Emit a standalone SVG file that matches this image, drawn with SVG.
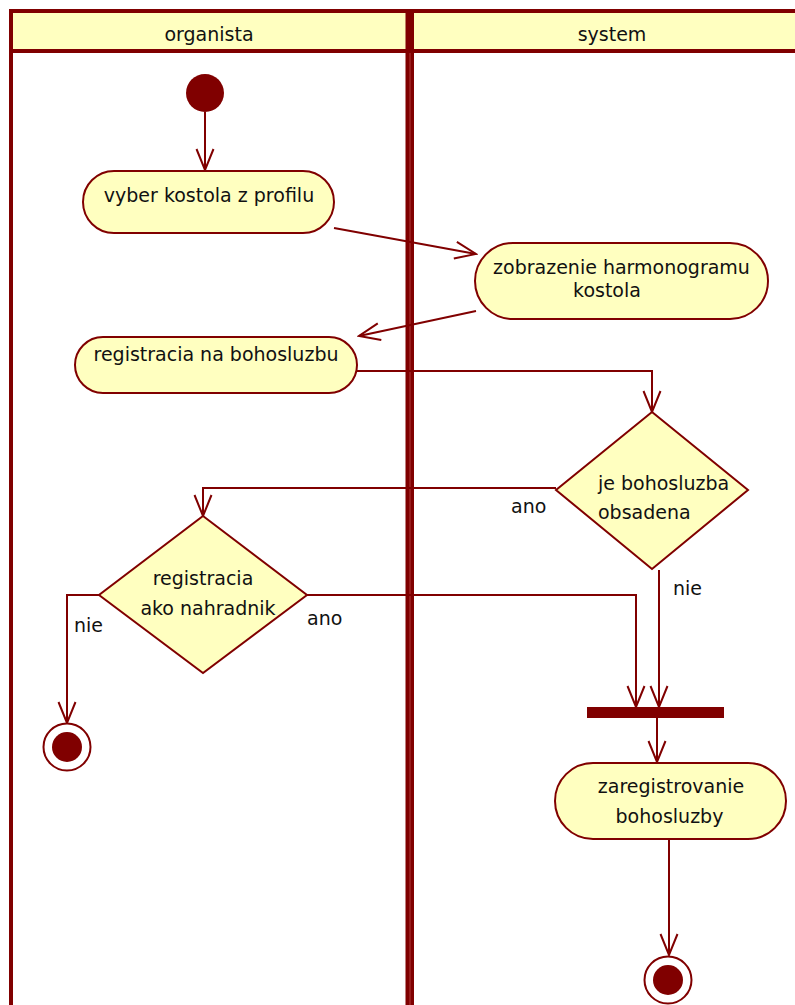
<svg xmlns="http://www.w3.org/2000/svg" width="795" height="1005" viewBox="0 0 795 1005">
<style>
.lbl{font-family:"DejaVu Sans",Verdana,sans-serif;font-size:19px;fill:#111}
.hdr{font-family:"DejaVu Sans",Verdana,sans-serif;font-size:19px;fill:#111;text-anchor:middle}
.c{text-anchor:middle}
.act{fill:#FFFFC0;stroke:#800000;stroke-width:2}
.conn{fill:none;stroke:#800000;stroke-width:2}
.dark{fill:#800000}
</style>
<defs>
<marker id="arr" viewBox="-23 -10 25 20" refX="0" refY="0" markerWidth="25" markerHeight="20" orient="auto" markerUnits="userSpaceOnUse">
<path d="M-21,-8.5 L0,0 L-21,8.5" fill="none" stroke="#800000" stroke-width="2"/>
</marker>
</defs>
<rect width="795" height="1005" fill="#fff"/>
<g id="lanes">
<rect x="11" y="11" width="800" height="40" fill="#FFFFC0"/>
<line x1="9" y1="11" x2="795" y2="11" stroke="#800000" stroke-width="4"/>
<line x1="9" y1="51" x2="795" y2="51" stroke="#800000" stroke-width="4"/>
<line x1="11" y1="9" x2="11" y2="1005" stroke="#800000" stroke-width="4"/>
<rect x="405.5" y="9" width="8.5" height="996" fill="#800000"/>
<line x1="410" y1="53" x2="410" y2="1005" stroke="#b03a3a" stroke-width="1"/>
<text class="hdr" x="209" y="41">organista</text>
<text class="hdr" x="612" y="41">system</text>
</g>
<g id="connectors">
<path class="conn" d="M205,112 L205,170" marker-end="url(#arr)"/>
<path class="conn" d="M334,228 L476,254" marker-end="url(#arr)"/>
<path class="conn" d="M476,311 L359,336" marker-end="url(#arr)"/>
<path class="conn" d="M357,371 L652,371 L652,412" marker-end="url(#arr)"/>
<path class="conn" d="M556,488 L203,488 L203,516" marker-end="url(#arr)"/>
<path class="conn" d="M99,595 L67,595 L67,723" marker-end="url(#arr)"/>
<path class="conn" d="M307,595 L636,595 L636,707" marker-end="url(#arr)"/>
<path class="conn" d="M659,570 L659,707" marker-end="url(#arr)"/>
<path class="conn" d="M657,718 L657,762" marker-end="url(#arr)"/>
<path class="conn" d="M669,840 L669,955" marker-end="url(#arr)"/>
<text class="lbl" x="511" y="513">ano</text>
<text class="lbl" x="74" y="632">nie</text>
<text class="lbl" x="307" y="625">ano</text>
<text class="lbl" x="673" y="595">nie</text>
</g>
<g id="start">
<circle class="dark" cx="205" cy="93" r="19"/>
</g>
<g id="vyber">
<rect class="act" x="83" y="171" width="251" height="62" rx="31"/>
<text class="lbl c" x="209" y="202">vyber kostola z profilu</text>
</g>
<g id="zobrazenie">
<rect class="act" x="475" y="243" width="293" height="76" rx="38"/>
<text class="lbl c" x="621.5" y="274">zobrazenie harmonogramu</text>
<text class="lbl c" x="607" y="297">kostola</text>
</g>
<g id="registracia">
<rect class="act" x="75" y="337" width="282" height="56" rx="28"/>
<text class="lbl c" x="216" y="361">registracia na bohosluzbu</text>
</g>
<g id="obsadena">
<polygon class="act" points="652,412 748,490 652,569 556,490"/>
<text class="lbl" x="598" y="490">je bohosluzba</text>
<text class="lbl" x="598" y="519">obsadena</text>
</g>
<g id="nahradnik">
<polygon class="act" points="203,516 307,595 203,673 99,595"/>
<text class="lbl c" x="203" y="585">registracia</text>
<text class="lbl c" x="208" y="615">ako nahradnik</text>
</g>
<g id="final1">
<circle cx="67" cy="747" r="23.5" fill="#fff" stroke="#800000" stroke-width="2"/>
<circle class="dark" cx="67" cy="747" r="15"/>
</g>
<g id="fork">
<rect class="dark" x="587" y="707" width="137" height="11"/>
</g>
<g id="zaregistrovanie">
<rect class="act" x="555" y="763" width="231" height="76" rx="38"/>
<text class="lbl c" x="671" y="793">zaregistrovanie</text>
<text class="lbl c" x="669.5" y="823">bohosluzby</text>
</g>
<g id="final2">
<circle cx="668" cy="980" r="23.5" fill="#fff" stroke="#800000" stroke-width="2"/>
<circle class="dark" cx="668" cy="980" r="15"/>
</g>
</svg>
